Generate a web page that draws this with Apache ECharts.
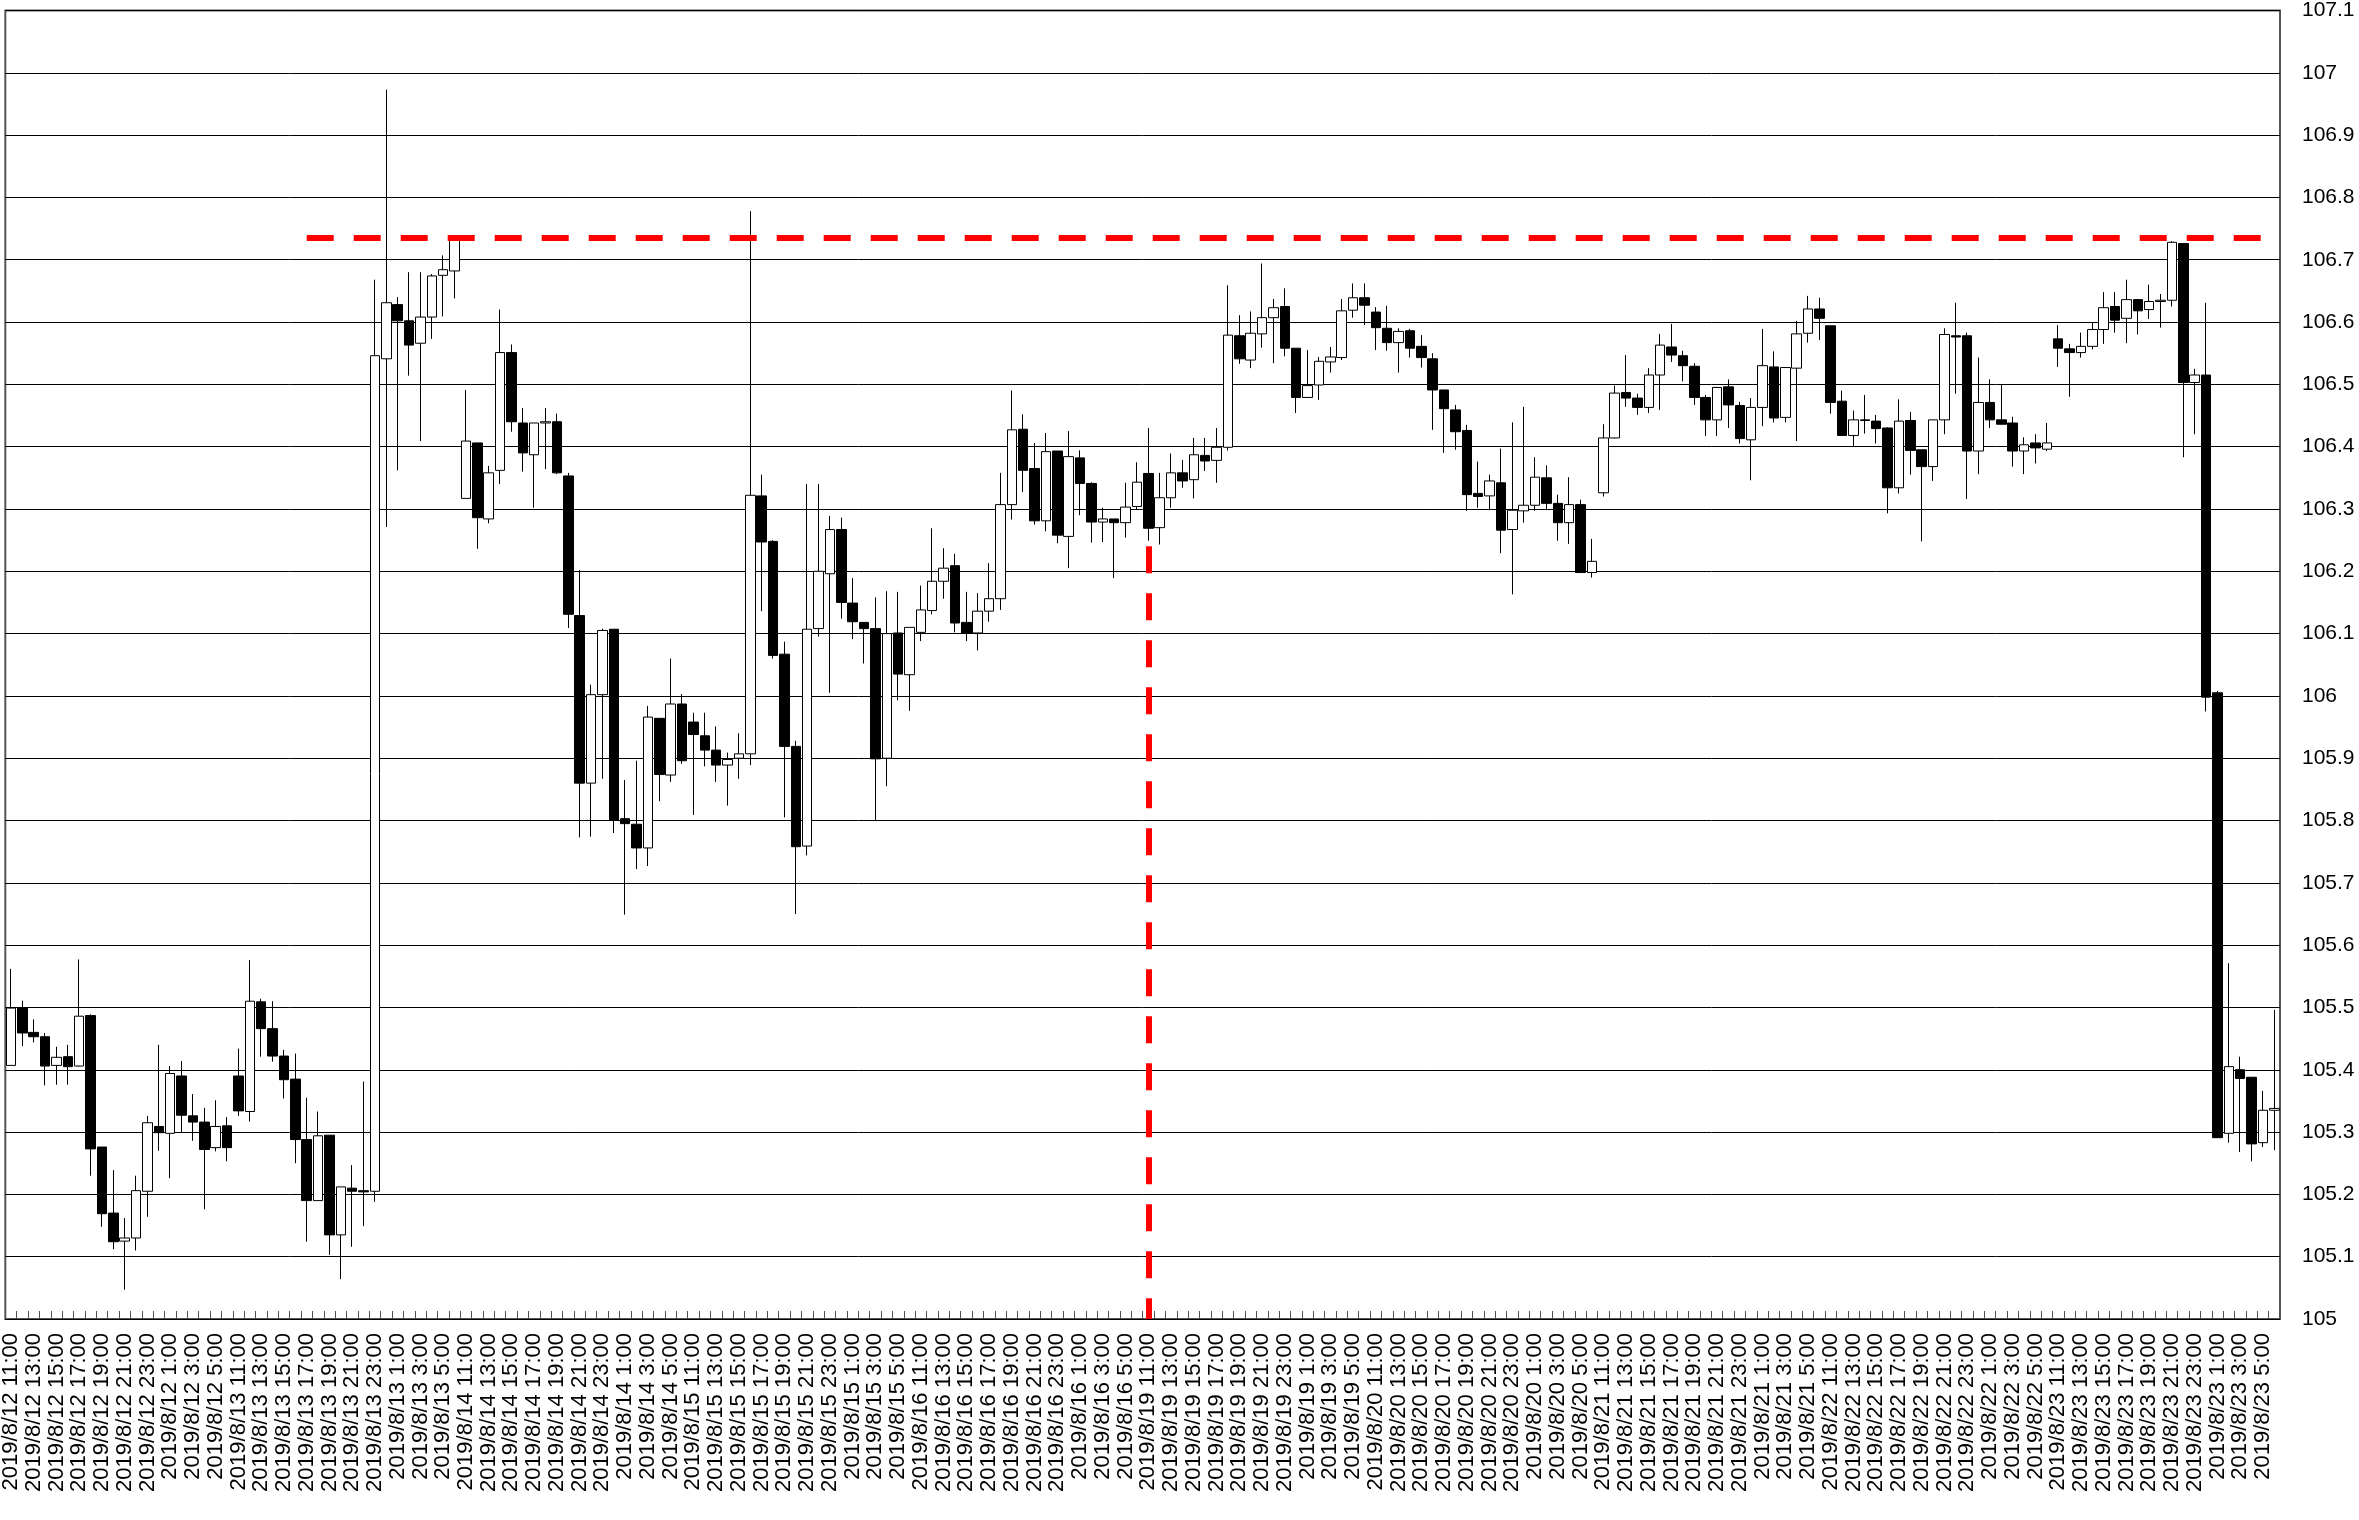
<!DOCTYPE html>
<html>
<head>
<meta charset="utf-8">
<script src="https://cdn.jsdelivr.net/npm/echarts@6/dist/echarts.min.js"></script>
<style>
html,body{margin:0;padding:0;background:#fff;}
#chart{width:2359px;height:1520px;}
</style>
</head>
<body>
<div id="chart"></div>
<script>
// ---- data ----
const days = [12, 13, 14, 15, 16, 19, 20, 21, 22, 23];
const hours = [11, 12, 13, 14, 15, 16, 17, 18, 19, 20, 21, 22, 23, 0, 1, 2, 3, 4, 5, 6];

const openValues = [
105.407,105.499,105.46,105.453,105.407,105.421,105.406,105.487,105.276,105.17,
105.125,105.13,105.205,105.309,105.298,105.39,105.326,105.316,105.275,105.31,
105.39,105.333,105.509,105.466,105.422,105.385,105.288,105.19,105.295,105.135,
105.21,105.206,105.205,106.541,106.628,106.602,106.566,106.608,106.675,106.682,
106.317,106.406,106.284,106.362,106.551,106.438,106.387,106.438,106.44,106.353,
106.129,105.86,106.002,106.107,105.803,105.794,105.756,105.964,105.873,105.987,
105.958,105.936,105.913,105.889,105.9,105.907,106.321,106.248,106.067,105.919,
105.759,106.108,106.196,106.267,106.149,106.118,106.108,105.9,106.101,106.034,
106.102,106.137,106.184,106.209,106.118,106.101,106.136,106.156,106.307,106.428,
106.365,106.281,106.393,106.256,106.382,106.341,106.279,106.284,106.278,106.304,
106.357,106.27,106.318,106.358,106.347,106.386,106.378,106.399,106.578,106.539,
106.581,106.607,106.625,106.558,106.479,106.499,106.536,106.543,106.619,106.639,
106.616,106.59,106.567,106.586,106.561,106.541,106.491,106.459,106.426,106.325,
106.321,106.342,106.267,106.297,106.306,106.35,106.309,106.278,106.307,106.198,
106.326,106.414,106.487,106.478,106.463,106.515,106.56,106.546,106.529,106.479,
106.443,106.496,106.466,106.411,106.463,106.528,106.447,106.526,106.582,106.621,
106.594,106.473,106.418,106.443,106.441,106.43,106.334,106.442,106.395,106.368,
106.443,106.578,106.578,106.393,106.471,106.443,106.438,106.393,106.406,106.396,
106.573,106.557,106.551,106.561,106.588,106.625,106.606,106.636,106.62,106.633,
106.635,106.726,106.503,106.515,106.005,105.298,105.4,105.388,105.283,105.335
];
const closeValues = [
105.499,105.459,105.453,105.406,105.42,105.405,105.486,105.273,105.169,105.124,
105.13,105.206,105.315,105.299,105.394,105.327,105.316,105.272,105.309,105.275,
105.334,105.51,105.466,105.422,105.384,105.288,105.19,105.294,105.135,105.212,
105.205,105.204,106.546,106.631,106.602,106.563,106.608,106.674,106.684,106.732,
106.409,106.286,106.358,106.551,106.44,106.39,106.438,106.44,106.358,106.131,
105.86,106.002,106.105,105.8,105.795,105.756,105.966,105.874,105.987,105.896,
105.938,105.913,105.889,105.898,105.907,106.322,106.247,106.065,105.919,105.758,
106.107,106.2,106.267,106.15,106.119,106.108,105.899,106.1,106.035,106.11,
106.138,106.184,106.205,106.117,106.101,106.136,106.156,106.307,106.427,106.362,
106.281,106.392,106.258,106.384,106.341,106.279,106.284,106.278,106.303,106.343,
106.269,106.318,106.358,106.345,106.387,106.377,106.399,106.579,106.541,106.582,
106.607,106.623,106.558,106.479,106.498,106.537,106.544,106.618,106.639,106.627,
106.591,106.567,106.585,106.558,106.543,106.491,106.461,106.424,106.323,106.32,
106.345,106.266,106.298,106.306,106.351,106.309,106.278,106.307,106.198,106.216,
106.414,106.486,106.478,106.463,106.515,106.563,106.547,106.53,106.479,106.443,
106.495,106.467,106.413,106.463,106.53,106.446,106.527,106.581,106.621,106.606,
106.471,106.418,106.443,106.442,106.429,106.334,106.441,106.394,106.368,106.443,
106.58,106.576,106.393,106.471,106.443,106.436,106.393,106.403,106.398,106.406,
106.558,106.551,106.561,106.588,106.623,106.603,106.636,106.618,106.633,106.635,
106.728,106.503,106.515,105.998,105.291,105.405,105.386,105.281,105.335,105.338
];
const lowValues = [
105.407,105.438,105.444,105.375,105.376,105.376,105.405,105.23,105.148,105.112,
105.047,105.11,105.164,105.27,105.226,105.299,105.286,105.176,105.269,105.253,
105.326,105.317,105.421,105.413,105.354,105.25,105.124,105.19,105.103,105.064,
105.116,105.149,105.188,106.271,106.362,106.514,106.409,106.573,106.609,106.638,
106.317,106.236,106.277,106.34,106.424,106.36,106.302,106.364,106.356,106.109,
105.773,105.774,105.867,105.78,105.649,105.722,105.727,105.831,105.862,105.891,
105.809,105.887,105.862,105.824,105.867,105.889,106.136,106.06,105.805,105.65,
105.744,106.095,106.005,106.124,106.091,106.052,105.799,105.855,105.993,105.976,
106.088,106.131,106.156,106.102,106.088,106.073,106.119,106.138,106.283,106.327,
106.275,106.264,106.245,106.205,106.29,106.246,106.247,106.189,106.254,106.299,
106.249,106.243,106.302,106.334,106.317,106.361,106.342,106.394,106.533,106.526,
106.559,106.534,106.545,106.454,106.478,106.475,106.519,106.539,106.607,106.595,
106.555,106.554,106.519,106.543,106.527,106.427,106.39,106.395,106.297,106.302,
106.298,106.229,106.163,106.278,106.297,106.298,106.249,106.244,106.198,106.19,
106.32,106.413,106.464,106.451,106.454,106.459,106.536,106.505,106.467,106.417,
106.417,106.43,106.405,106.346,106.433,106.439,106.439,106.409,106.567,106.571,
106.453,106.418,106.4,106.421,106.405,106.293,106.325,106.355,106.248,106.345,
106.42,106.485,106.316,106.356,106.43,106.436,106.368,106.356,106.373,106.393,
106.528,106.48,106.543,106.556,106.565,106.583,106.566,106.58,106.605,106.591,
106.625,106.383,106.42,105.975,105.291,105.283,105.268,105.253,105.276,105.271
];
const highValues = [
105.562,105.511,105.481,105.459,105.437,105.44,105.577,105.489,105.276,105.239,
105.162,105.23,105.326,105.44,105.406,105.414,105.361,105.339,105.351,105.324,
105.434,105.576,105.514,105.51,105.432,105.426,105.355,105.333,105.295,105.212,
105.247,105.381,106.668,106.973,106.64,106.68,106.68,106.677,106.707,106.732,
106.491,106.406,106.369,106.62,106.564,106.462,106.438,106.462,106.453,106.358,
106.202,106.018,106.108,106.107,105.865,105.896,105.984,105.964,106.06,106.003,
105.973,105.973,105.951,105.909,105.94,106.778,106.355,106.25,106.087,105.928,
106.34,106.34,106.289,106.286,106.189,106.118,106.158,106.168,106.167,106.11,
106.177,106.269,106.237,106.228,106.167,106.165,106.213,106.358,106.49,106.452,
106.406,106.422,106.393,106.425,106.394,106.343,106.302,106.284,106.342,106.375,
106.43,106.358,106.389,106.379,106.414,106.414,106.43,106.659,106.611,106.617,
106.694,106.637,106.654,106.558,106.555,106.544,106.56,106.637,106.662,106.662,
106.624,106.626,106.59,106.589,106.579,106.55,106.491,106.467,106.435,106.376,
106.355,106.397,106.439,106.464,106.383,106.37,106.323,106.351,106.315,106.252,
106.436,106.498,106.547,106.485,106.526,106.581,106.597,106.554,106.534,106.483,
106.496,106.508,106.472,106.478,106.589,106.553,106.527,106.602,106.642,106.639,
106.594,106.49,106.458,106.483,106.451,106.431,106.476,106.456,106.395,106.443,
106.59,106.631,106.583,106.543,106.508,106.5,106.448,106.415,106.42,106.438,
106.595,106.565,106.583,106.6,106.648,106.648,106.668,106.636,106.66,106.645,
106.73,106.726,106.525,106.631,106.008,105.571,105.421,105.388,105.366,105.496
];

const yMin = 105.0, yMax = 107.1, yStep = 0.1;
const resistanceLevel = 106.736;
const resistanceFrom = 25.75, resistanceTo = 198.4;
const markerIndex = 100;
const markerTop = 106.24, markerBottom = 105.0;

// ---- build ----
const categories = [];
days.forEach(d => hours.forEach(h => categories.push('2019/8/' + d + ' ' + h + ':00')));
const candleData = openValues.map((o, i) => [o, closeValues[i], lowValues[i], highValues[i]]);

const chart = echarts.init(document.getElementById('chart'), null, {renderer: 'canvas'});
const redDash = {color: '#ff0000', width: 6, type: [27, 20]};
chart.setOption({
  animation: false,
  backgroundColor: '#ffffff',
  grid: {left: 3, right: 79, top: 9, bottom: 201, show: true, borderColor: '#555', borderWidth: 2, backgroundColor: '#fff'},
  xAxis: {
    type: 'category',
    data: categories,
    boundaryGap: true,
    axisLine: {show: false},
    axisTick: {show: true, inside: true, length: 8, interval: 0, lineStyle: {color: '#555'}},
    axisLabel: {interval: 1, rotate: 90, fontFamily: 'Liberation Sans', fontSize: 22, color: '#000', margin: 14},
    splitLine: {show: false}
  },
  yAxis: {
    type: 'value',
    position: 'right',
    min: yMin, max: yMax, interval: yStep,
    axisLine: {show: false},
    axisTick: {show: false},
    axisLabel: {fontFamily: 'Liberation Sans', fontSize: 21, color: '#000', margin: 22},
    splitLine: {show: true, lineStyle: {color: '#000', width: 1}}
  },
  series: [{
    type: 'candlestick',
    data: candleData,
    barWidth: 10,
    clip: false,
    itemStyle: {color: '#ffffff', color0: '#000000', borderColor: '#000000', borderColor0: '#000000', borderWidth: 1},
    markLine: {
      silent: true,
      symbol: ['none', 'none'],
      label: {show: false},
      lineStyle: redDash,
      data: [
        [{coord: [resistanceFrom, resistanceLevel], lineStyle: redDash}, {coord: [resistanceTo, resistanceLevel]}],
        [{coord: [markerIndex, markerTop], lineStyle: redDash}, {coord: [markerIndex, markerBottom]}]
      ]
    }
  }]
});
</script>
</body>
</html>
